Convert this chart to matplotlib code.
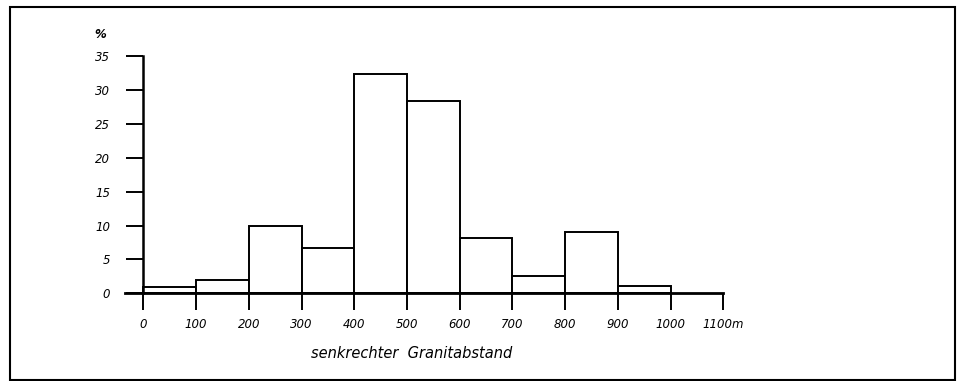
import numpy as np
import matplotlib
matplotlib.use('Agg')
import matplotlib.pyplot as plt
from matplotlib.patches import Rectangle

# histogram of vertical granite spacing, percent per 100 m class
bin_edges = [0, 100, 200, 300, 400, 500, 600, 700, 800, 900, 1000]
percent = [1.0, 2.0, 10.0, 6.7, 32.3, 28.3, 8.2, 2.5, 9.1, 1.1]
x_ticks = [0, 100, 200, 300, 400, 500, 600, 700, 800, 900, 1000, 1100]
x_ticklabels = ['0', '100', '200', '300', '400', '500', '600', '700', '800', '900', '1000', '1100m']
y_ticks = [0, 5, 10, 15, 20, 25, 30, 35]

plt.rcParams['font.family'] = 'DejaVu Sans'

fig = plt.figure(figsize=(9.58, 3.81), dpi=100)
ax = fig.add_axes([0.1276, 0.1945, 0.655, 0.6942])

widths = np.diff(bin_edges)
ax.bar(bin_edges[:-1], percent, width=widths, align='edge',
       facecolor='white', edgecolor='black', linewidth=1.4, zorder=2)

ax.set_xlim(-40, 1150)
ax.set_ylim(-2, 37)

for s in ['top', 'right']:
    ax.spines[s].set_visible(False)
ax.spines['left'].set_position(('data', 0))
ax.spines['bottom'].set_position(('data', 0))
ax.spines['left'].set_bounds(0, 35)
ax.spines['bottom'].set_bounds(-35, 1100)
ax.spines['left'].set_linewidth(1.8)
ax.spines['bottom'].set_linewidth(2.0)
ax.spines['left'].set_zorder(3)
ax.spines['bottom'].set_zorder(3)

ax.set_xticks(x_ticks)
ax.set_xticklabels(x_ticklabels, fontstyle='italic', fontsize=8.5)
ax.set_yticks(y_ticks)
ax.set_yticklabels([str(v) for v in y_ticks], fontstyle='italic', fontsize=8.5)
ax.tick_params(axis='x', direction='out', length=12, width=1.4, pad=6)
ax.tick_params(axis='y', direction='out', length=12, width=1.4, pad=12)

ax.annotate('%', xy=(-82, 38.2), xycoords='data', ha='center', va='center',
            fontsize=8.5, fontstyle='italic', fontweight='bold', annotation_clip=False)

fig.text(412 / 958, 1 - 353 / 381, 'senkrechter  Granitabstand', ha='center', va='center',
         fontsize=10.5, fontstyle='italic')

# scanned page frame
fig.patches.append(Rectangle((10 / 958, 1 - 380 / 381), 945 / 958, 373 / 381,
                             transform=fig.transFigure, fill=False,
                             edgecolor='black', linewidth=1.5))

fig.savefig('out.png', dpi=100, facecolor='white')
